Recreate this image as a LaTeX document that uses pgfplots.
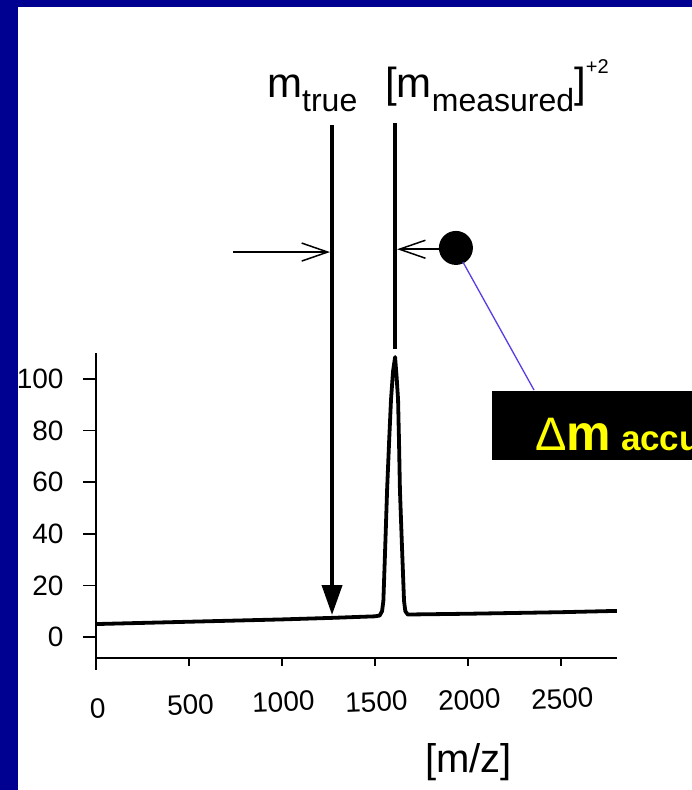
\documentclass[border=0pt]{standalone}
\usepackage{pgfplots}
\pgfplotsset{compat=1.18}
\usepackage{fontspec}
\setmainfont{Liberation Sans}
\usetikzlibrary{arrows.meta}
\definecolor{navy}{RGB}{0,0,145}
\definecolor{linkblue}{RGB}{90,60,230}
\definecolor{yel}{RGB}{255,255,0}
\begin{document}
\begin{tikzpicture}[x=1bp,y=1bp]
\useasboundingbox (0,0) rectangle (692,790);
\clip (0,0) rectangle (692,790);
\fill[white] (0,0) rectangle (692,790);
\begin{axis}[
  at={(96bp,132.4bp)}, anchor=south west,
  scale only axis, width=520.8bp, height=304.4bp,
  xmin=0, xmax=2800, ymin=-8, ymax=110,
  axis x line=bottom, axis y line=left,
  axis line style={line width=2bp, -},
  xtick={0,500,1000,1500,2000,2500},
  xticklabels={\raisebox{0bp}{0},\raisebox{4bp}{500},\raisebox{7bp}{1000},\raisebox{7bp}{1500},\raisebox{9bp}{2000},\raisebox{10bp}{2500}},
  ytick={0,20,40,60,80,100},
  tick align=outside,
  major tick length=13bp,
  xtick style={/pgfplots/major tick length=8bp, line width=1.3bp, black},
  ytick style={line width=1.5bp, black},
  tick label style={font=\fontsize{28bp}{28bp}\selectfont},
  xticklabel style={anchor=base, rotate=2.5, yshift=-48bp},
  yticklabel style={anchor=east, xshift=-16bp},
  /pgf/number format/assume math mode=true,
  clip=false,
]
\addplot[line width=3.8bp, black, line join=round] coordinates {
 (0,5.0) (500,5.9) (1000,6.8) (1269,7.4) (1500,8.0) (1525,8.3)
 (1538,10) (1545,14) (1555,35) (1565,57) (1576,76) (1586,92)
 (1597,103) (1608,108.5) (1616,101) (1624,92) (1629,76) (1634,57)
 (1645,35) (1656,14) (1663,10) (1676,8.7) (2000,9.0) (2500,9.6) (2800,10.1)
};
% y axis stub below the x axis
\draw[line width=2bp] (axis cs:0,-8) -- (axis cs:0,-13);
% annotation lines
\draw[line width=3.8bp, -{Triangle[length=30bp,width=20bp]}] (axis cs:1269,198.4) -- (axis cs:1269,8.5);
\draw[line width=3.8bp] (axis cs:1608,199.2) -- (axis cs:1608,111.5);
\draw[line width=1.5bp, -{Straight Barb[length=26bp,width=18bp]}] (axis cs:737,149.2) -- (axis cs:1258,149.2);
\draw[line width=1.5bp, -{Straight Barb[length=26bp,width=18bp]}] (axis cs:1935,150.3) -- (axis cs:1619,150.3);
\fill (axis cs:1935,150.8) circle[radius=17bp];
\draw[linkblue, line width=1.3bp] (axis cs:1973,145.3) -- (axis cs:2355,95.7);
\end{axis}
% black label box
\fill[black] (492,399) rectangle (700,330);
\node[anchor=base west, inner sep=0, text=yel] at (535,339) {{\fontsize{47bp}{47bp}\selectfont Δ}{\fontsize{50bp}{50bp}\selectfont\bfseries m}\hspace{10bp}{\fontsize{35bp}{35bp}\selectfont\bfseries accuracy}};
% top labels
\node[anchor=base west, inner sep=0] at (267,692) {{\fontsize{42bp}{42bp}\selectfont m}\raisebox{-14bp}{\fontsize{32bp}{32bp}\selectfont true}};
\node[anchor=base west, inner sep=0] at (385,692) {\fontsize{42bp}{42bp}\selectfont [m\raisebox{-14bp}{\fontsize{32bp}{32bp}\selectfont measured}]\raisebox{24bp}{\fontsize{20bp}{20bp}\selectfont +2}};
\node[anchor=base west, inner sep=0] at (425,17) {\fontsize{40bp}{40bp}\selectfont [m/z]};
% frame
\fill[navy] (0,0) rectangle (18,790);
\fill[navy] (0,783) rectangle (692,790);
\end{tikzpicture}
\end{document}
